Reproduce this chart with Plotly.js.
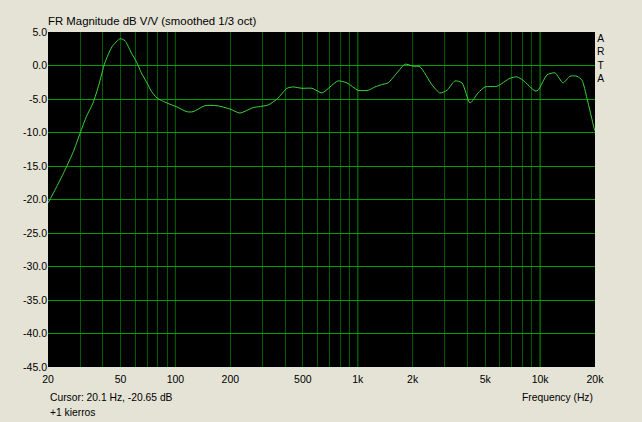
<!DOCTYPE html>
<html>
<head>
<meta charset="utf-8">
<script src="https://cdn.plot.ly/plotly-3.0.1.min.js"></script>
<style>html,body{margin:0;padding:0;background:#e4e3d6;}#chart{width:642px;height:422px;}</style>
</head>
<body>
<div id="chart"></div>
<script>
// Frequency response (smoothed 1/3 oct)
var freqHz = [20, 20.5, 22.5, 24.8, 27.5, 30, 32.5, 35.3, 38, 41, 44.9, 49.7, 52.9, 57, 61.5, 65, 69.8, 74, 79.2, 85, 89.9,
  102, 115.6, 124.8, 145, 169, 199, 226, 266, 322, 361, 409, 441, 494, 561, 637, 704, 778, 873, 1003, 1138, 1242, 1375,
  1465, 1641, 1816, 2008, 2194, 2554, 2824, 3086, 3412, 3730, 4126, 4563, 4988, 5802, 6838, 7470, 8054, 9380, 9738,
  10912, 12072, 13352, 14592, 15932, 16978, 18074, 19752, 20000];
var magDb = [-20.5, -20.0, -17.9, -15.6, -12.9, -10.1, -7.6, -5.6, -2.9, 0.4, 2.8, 4.0, 3.7, 2.0, 0.4, -1.1, -2.6, -3.9, -4.85, -5.3, -5.6,
  -6.2, -6.9, -6.9, -6.0, -6.0, -6.5, -7.1, -6.3, -5.9, -5.0, -3.4, -3.2, -3.4, -3.4, -4.1, -3.2, -2.3, -2.6, -3.7, -3.7, -3.2, -2.8,
  -2.6, -1.1, 0.2, -0.1, -0.2, -2.9, -4.1, -3.7, -2.3, -2.6, -5.6, -4.1, -3.2, -3.1, -1.9, -1.7, -2.2, -3.8, -3.7,
  -1.4, -1.1, -2.6, -1.6, -1.6, -2.2, -4.9, -9.3, -9.8];

// x axis: every gridline position, with labels only on some
var xGridVals = [20, 30, 40, 50, 60, 70, 80, 90, 100, 200, 300, 400, 500, 600, 700, 800, 900,
  1000, 2000, 3000, 4000, 5000, 6000, 7000, 8000, 9000, 10000, 20000];
var xGridText = ["20", "", "", "50", "", "", "", "", "100", "200", "", "", "500", "", "", "", "",
  "1k", "2k", "", "", "5k", "", "", "", "", "10k", "20k"];
var xMajorGrid = [100, 1000, 10000];
var yTickVals = [5, 0, -5, -10, -15, -20, -25, -30, -35, -40, -45];
var yTickText = ["5.0", "0.0", "-5.0", "-10.0", "-15.0", "-20.0", "-25.0", "-30.0", "-35.0", "-40.0", "-45.0"];
var sideLetters = ["A", "R", "T", "A"];

var titleText = "FR Magnitude dB V/V (smoothed 1/3 oct)";
var cursorText = "Cursor: 20.1 Hz, -20.65 dB";
var noteText = "+1 kierros";
var xTitleText = "Frequency (Hz)";

var FONT = "Liberation Sans, Arial, sans-serif";
var xr = [Math.log10(20), Math.log10(20000)];

var traces = [{
  x: freqHz, y: magDb, type: "scatter", mode: "lines",
  line: {color: "#3cd43c", width: 1, shape: "spline", smoothing: 0.6},
  hoverinfo: "skip", showlegend: false
}];

var annotations = [
  {text: cursorText, xref: "paper", yref: "paper", x: 0, y: 0, xanchor: "left", yanchor: "middle",
   yshift: -30, showarrow: false, font: {family: FONT, size: 10.3, color: "#000"}},
  {text: noteText, xref: "paper", yref: "paper", x: 0, y: 0, xanchor: "left", yanchor: "middle",
   yshift: -45, showarrow: false, font: {family: FONT, size: 10.3, color: "#000"}},
  {text: xTitleText, xref: "paper", yref: "paper", x: 1, y: 0, xanchor: "right", yanchor: "middle",
   yshift: -30, showarrow: false, font: {family: FONT, size: 10.3, color: "#000"}},
  {text: sideLetters.join("<br>"), xref: "paper", yref: "paper", x: 1, y: 1, xanchor: "left", yanchor: "top",
   xshift: 0, yshift: 1, align: "center", showarrow: false, font: {family: FONT, size: 10.3, color: "#000"}}
];

// bright decade gridlines, positioned in data coordinates through the x scale
var shapes = xMajorGrid.map(function (f) {
  return {type: "line", xref: "x", yref: "paper", x0: f, x1: f, y0: 0, y1: 1, layer: "between",
    line: {color: "#00b000", width: 1}};
});

var layout = {
  width: 642, height: 422,
  paper_bgcolor: "#e4e3d6", plot_bgcolor: "#000000",
  margin: {l: 48, r: 47, t: 32, b: 55, pad: 0},
  showlegend: false,
  title: {text: titleText, xref: "paper", x: 0, xanchor: "left", yref: "container", y: 1 - 21 / 422, yanchor: "middle",
    font: {family: FONT, size: 11.4, color: "#000"}},
  xaxis: {
    type: "log", range: xr, tickmode: "array", tickvals: xGridVals, ticktext: xGridText,
    showgrid: true, gridcolor: "#005c00", gridwidth: 1, zeroline: false, showline: false, ticks: "",
    ticklabelstandoff: 4,
    tickfont: {family: FONT, size: 10.5, color: "#000"}
  },
  yaxis: {
    range: [-45, 5], tickmode: "array", tickvals: yTickVals, ticktext: yTickText,
    showgrid: true, gridcolor: "#00a000", gridwidth: 1, zeroline: false, ticks: "",
    showline: false,
    tickfont: {family: FONT, size: 10.5, color: "#000"}
  },
  shapes: shapes,
  annotations: annotations
};

Plotly.newPlot("chart", traces, layout, {staticPlot: true, displayModeBar: false});
</script>
</body>
</html>
